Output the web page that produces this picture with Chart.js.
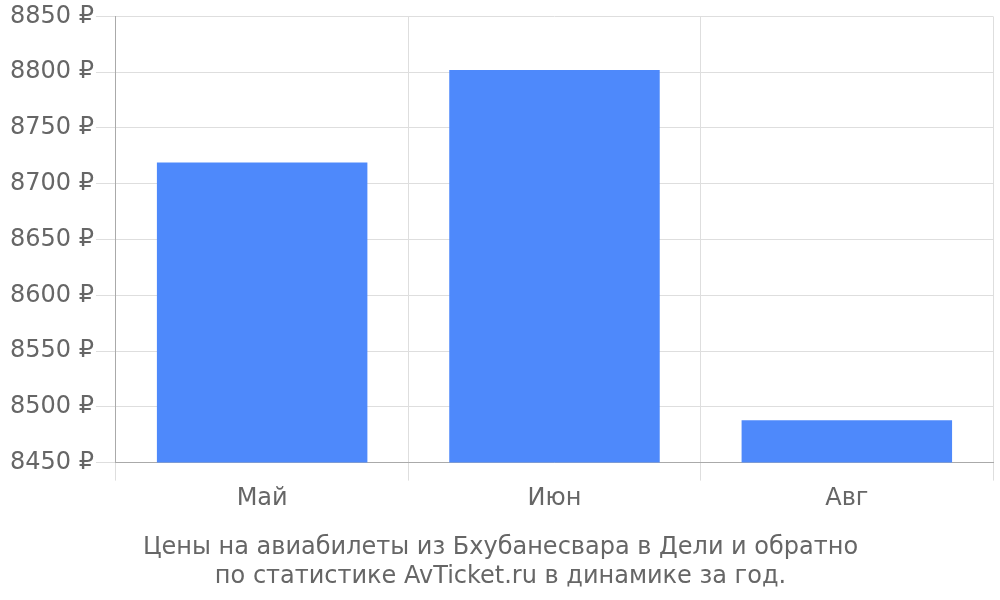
<!DOCTYPE html>
<html lang="ru">
<head>
    <meta charset="UTF-8">
    <title>Цены на авиабилеты</title>
    <script src="https://cdn.jsdelivr.net/npm/chart.js"></script>
    <style>
        body { margin: 0; padding: 0; background: #fff; }
        #wrap { width: 1000px; height: 600px; }
    </style>
</head>
<body>
    <div id="wrap"><canvas id="chart"></canvas></div>
    <script>
        const months = ['Май', 'Июн', 'Авг'];
        const prices = [8719, 8802, 8488];
        const yMin = 8450;
        const yMax = 8850;
        const yStep = 50;
        const titleLines = ['Цены на авиабилеты из Бхубанесвара в Дели и обратно', 'по статистике AvTicket.ru в динамике за год.'];

        Chart.defaults.font.family = '"DejaVu Sans", sans-serif';
        Chart.defaults.color = '#666';

        new Chart(document.getElementById('chart').getContext('2d'), {
            type: 'bar',
            data: {
                labels: months,
                datasets: [{
                    data: prices,
                    backgroundColor: '#4e89fb',
                    borderWidth: 0
                }]
            },
            options: {
                responsive: true,
                maintainAspectRatio: false,
                animation: false,
                layout: { padding: { top: 0, right: 7, left: 8, bottom: 9 } },
                plugins: {
                    legend: { display: false },
                    tooltip: { enabled: false },
                    title: {
                        display: true,
                        position: 'bottom',
                        text: titleLines,
                        font: { size: 24, weight: 'normal', lineHeight: 1.2 },
                        color: '#666',
                        padding: { top: 16, bottom: 0 }
                    }
                },
                scales: {
                    x: {
                        grid: { color: '#dedede', tickLength: 18, offset: true },
                        border: { color: '#aaa' },
                        ticks: { font: { size: 24 }, color: '#666', padding: 4 }
                    },
                    y: {
                        min: yMin,
                        max: yMax,
                        grid: { color: '#dedede', tickLength: 20 },
                        border: { color: '#aaa' },
                        ticks: {
                            stepSize: yStep,
                            font: { size: 24 },
                            color: '#666',
                            padding: 2,
                            callback: v => v + ' ₽'
                        }
                    }
                }
            }
        });
    </script>
</body>
</html>
